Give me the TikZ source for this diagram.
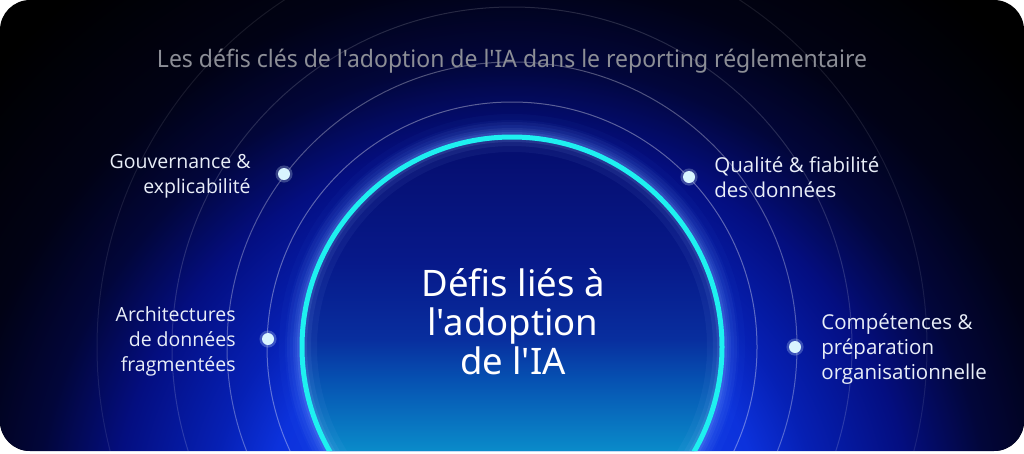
\documentclass[tikz,border=0pt]{standalone}
\usepackage{graphicx}
\usepackage{fontspec}
\setmainfont{Open Sans}[Ligatures=TeXOff]
\newfontfamily\corefont{Noto Sans}[Ligatures=TeXOff]
\usetikzlibrary{positioning}

\definecolor{glowA}{HTML}{1A4CF2}
\definecolor{glowB}{HTML}{0C32DC}
\definecolor{glowC}{HTML}{0620B4}
\definecolor{glowD}{HTML}{040E80}
\definecolor{glowE}{HTML}{02063A}
\definecolor{glowF}{HTML}{010215}
\definecolor{coreA}{HTML}{12C4E4}
\definecolor{coreB}{HTML}{0A8CCA}
\definecolor{coreC}{HTML}{0652B2}
\definecolor{coreD}{HTML}{082E9E}
\definecolor{coreE}{HTML}{07198A}
\definecolor{coreF}{HTML}{050D6C}
\definecolor{ringcol}{HTML}{1EF0F0}
\definecolor{halocol}{HTML}{4E8CFF}
\definecolor{dotcol}{HTML}{D8F4FF}
\definecolor{labelcol}{HTML}{E9EEF8}
\definecolor{titlecol}{HTML}{8C8E96}

% the path box is mapped onto 25bp..75bp of the shading
\pgfdeclareradialshading{bgglow}{\pgfpoint{0bp}{0bp}}{color(0bp)=(glowA); color(9bp)=(glowB); color(11bp)=(glowC); color(14.3bp)=(glowD); color(17.1bp)=(glowE); color(20bp)=(glowF); color(25bp)=(black); color(50bp)=(black)}
\pgfdeclareverticalshading{coreshade}{100bp}{color(0bp)=(coreA); color(25bp)=(coreA); color(37.5bp)=(coreB); color(46bp)=(coreC); color(51bp)=(coreD); color(60bp)=(coreE); color(75bp)=(coreF); color(100bp)=(coreF)}

\tikzset{
  orbit/.style={white, line width=1pt},
  ring/.style={ringcol, line width=5pt},
  dot/.style={circle, fill=dotcol, minimum size=12pt, inner sep=0pt,
    preaction={draw=dotcol, line width=5pt, opacity=0.25}},
  labeltext/.style={text=labelcol, font=\fontsize{19.5}{25}\selectfont},
  labelright/.style={labeltext, font=\fontsize{20.5}{25}\selectfont},
  coretext/.style={text=white, align=center, font=\corefont\fontsize{36.5}{39}\selectfont},
  titletext/.style={text=titlecol, font=\corefont\fontsize{24}{28}\selectfont}
}

\begin{document}
\begin{tikzpicture}[x=1pt, y=-1pt, every node/.style={inner sep=0pt}]
\useasboundingbox (0,0) rectangle (1024,453);
\fill[white] (0,0) rectangle (1024,453);

\begin{scope}
  \clip[rounded corners=30pt] (0,0) rectangle (1024,451);
  \fill[black] (0,0) rectangle (1024,451);
  \shade[shading=bgglow] (512,540) circle (700);
  % orbits
  \foreach \r/\o in {245/0.35, 285/0.3, 340/0.15, 415/0.09}
    \draw[orbit, opacity=\o] (512,347) circle (\r);
  % halo round the core
  \foreach \w/\o in {46/0.04, 34/0.05, 24/0.07, 14/0.1}
    \draw[halocol, line width=\w pt, opacity=\o] (512,347) circle (210);
  \shade[shading=coreshade] (512,347) circle (210);
  \foreach \w/\o in {30/0.06, 18/0.08, 10/0.12}
    \draw[halocol!60!white, line width=\w pt, opacity=\o] (512,347) circle (210);
  \draw[ring] (512,347) circle (210);
\end{scope}

\node[titletext] (heading) at (512,61) {\resizebox{710pt}{\height}{Les défis clés de l'adoption de l'IA dans le reporting réglementaire}};
\node[coretext] (defis) at (513,322) {Défis liés à\\l'adoption\\de l'IA};

\node[dot] (gouv) at (284,174) {};
\node[dot] (archi) at (268,339) {};
\node[dot] (quali) at (689,177) {};
\node[dot] (compe) at (795,347) {};

\node[labeltext, align=right, left=27pt of gouv, yshift=-2pt] (gouvtext) {Gouvernance \&\\explicabilité};
\node[labeltext, align=right, left=26pt of archi, yshift=-2pt] (architext) {Architectures\\de données\\fragmentées};
\node[labelright, align=left, right=19pt of quali] (qualitext) {Qualité \& fiabilité\\des données};
\node[labelright, align=left, right=20pt of compe, yshift=-2pt] (competext) {Compétences \&\\préparation\\organisationnelle};
\end{tikzpicture}
\end{document}
